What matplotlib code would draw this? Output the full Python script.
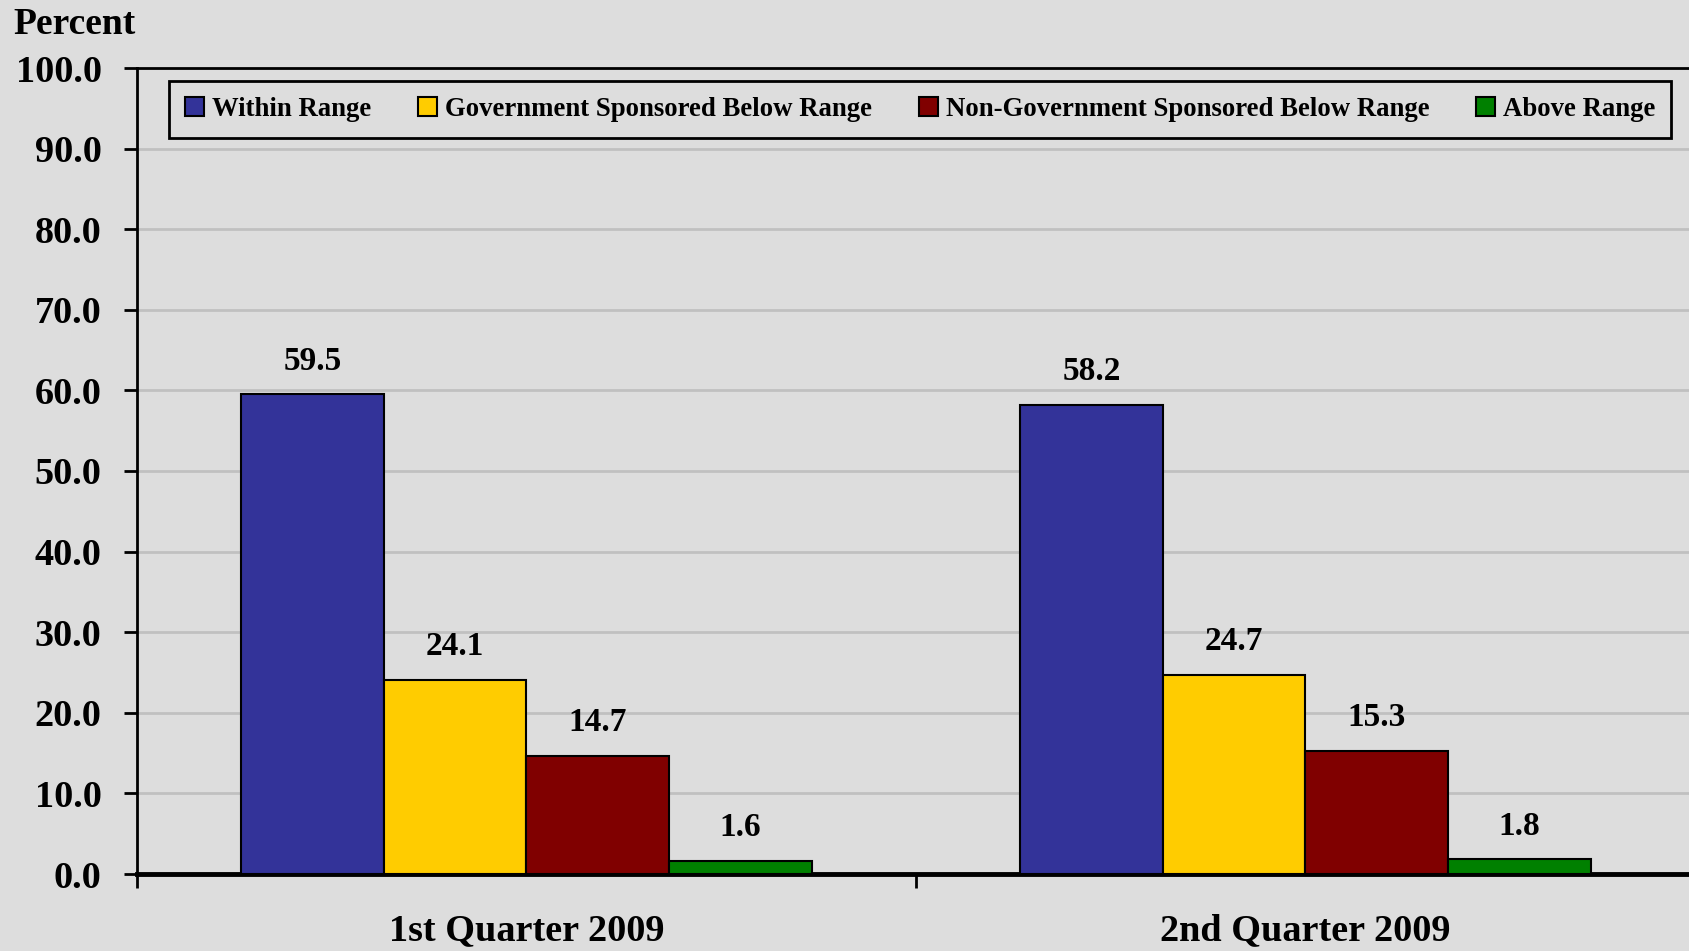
import numpy as np
import matplotlib
matplotlib.use('Agg')
import matplotlib.pyplot as plt
from matplotlib.patches import Patch

quarters = ['1st Quarter 2009', '2nd Quarter 2009']
series = ['Within Range', 'Government Sponsored Below Range',
          'Non-Government Sponsored Below Range', 'Above Range']
within = [59.5, 58.2]
gov_below = [24.1, 24.7]
nongov_below = [14.7, 15.3]
above = [1.6, 1.8]
colors = ['#333399', '#ffcc00', '#800000', '#008000']

bg = '#dddddd'
plt.rcParams['font.family'] = ['Liberation Serif', 'DejaVu Serif']
plt.rcParams['font.weight'] = 'bold'

fig = plt.figure(figsize=(16.9, 9.51), dpi=100, facecolor=bg)
ax = fig.add_axes([137 / 1690, 77 / 951, 1558 / 1690, 806 / 951])
ax.set_facecolor(bg)

x = np.arange(len(quarters)) + 0.5
w = 0.183
vals = [within, gov_below, nongov_below, above]
for i, (v, c) in enumerate(zip(vals, colors)):
    pos = x + (i - 1.5) * w
    ax.bar(pos, v, width=w, color=c, edgecolor='black', linewidth=1.5, zorder=3)
    for p, val in zip(pos, v):
        ax.text(p, val + 2.2, f'{val:.1f}', ha='center', va='bottom',
                fontsize=24, fontweight='bold', zorder=4)

ax.set_xlim(0, 2)
ax.set_ylim(0, 100)
ax.set_yticks(np.arange(0, 101, 10))
ax.set_yticklabels([f'{t:.1f}' for t in np.arange(0, 101, 10)], fontsize=27.5, fontweight='bold')
ax.yaxis.grid(True, color='#c0c0c0', linewidth=2, zorder=0)
ax.set_axisbelow(True)

ax.set_xticks([0, 1, 2])
ax.set_xticklabels([])
ax.set_xticks(x, minor=True)
ax.set_xticklabels(quarters, minor=True, fontsize=27.5, fontweight='bold')
ax.tick_params(axis='x', which='minor', length=0, pad=28)
ax.tick_params(axis='x', which='major', length=10, width=2, direction='out')
ax.tick_params(axis='y', length=9.5, width=2, direction='out', pad=16)

for s in ['top', 'left']:
    ax.spines[s].set_linewidth(2)
ax.spines['bottom'].set_linewidth(3.5)
ax.spines['right'].set_visible(False)

handles = [Patch(facecolor=c, edgecolor='black', linewidth=1.5) for c in colors]
leg = ax.legend(handles, series, ncol=4, loc='upper left',
                bbox_to_anchor=(32 / 1558, 1 - 13 / 806), borderaxespad=0,
                frameon=True, fancybox=False, edgecolor='black', facecolor=bg,
                framealpha=1, prop={'size': 19.3, 'weight': 'bold'},
                handlelength=0.7, handleheight=0.7, handletextpad=0.3,
                columnspacing=1.75, borderpad=0.6)
leg.get_frame().set_linewidth(2)

fig.text(13 / 1690, 1 - 24 / 951, 'Percent', fontsize=27, fontweight='bold', va='center', ha='left')

fig.savefig('out.png', dpi=100, facecolor=bg)
